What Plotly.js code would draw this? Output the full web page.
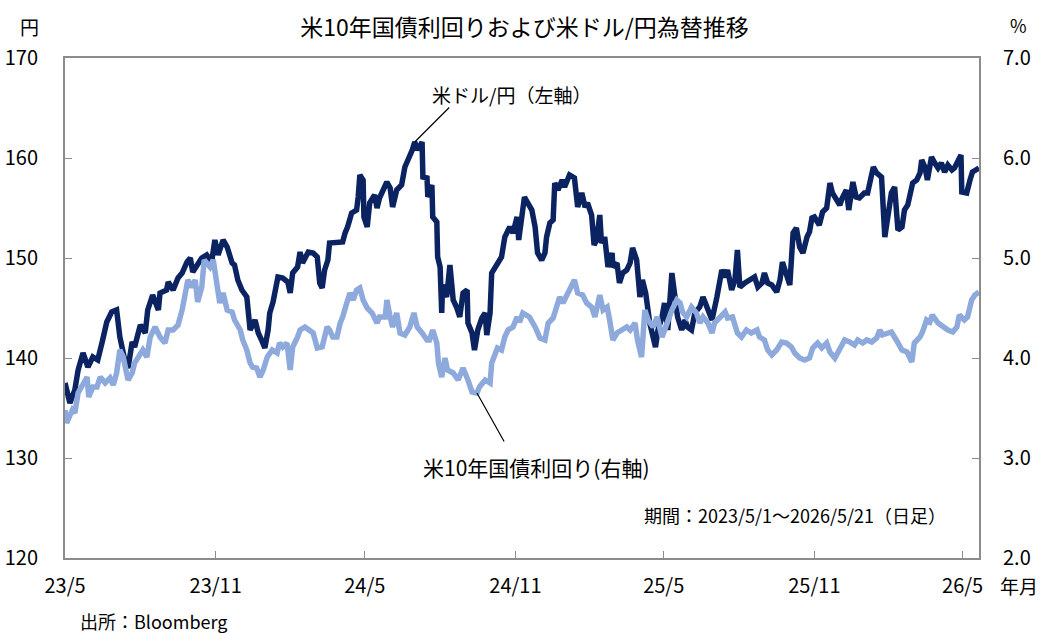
<!DOCTYPE html>
<html><head><meta charset="utf-8">
<script src="https://cdn.plot.ly/plotly-3.0.1.min.js"></script>
<style>html,body{margin:0;padding:0;background:#fff}#chart{width:1045px;height:633px}</style>
</head><body><div id="chart"></div>
<script>
// Days counted from 2023-05-01
const usdDays = [0,6,12,16,22,28,34,40,46,51,57,63,67,73,77,82,85,92,98,101,107,114,116,124,126,132,138,143,149,153,156,162,167,173,179,183,187,193,198,204,207,211,216,222,226,232,236,240,244,248,250,254,260,266,272,275,278,284,287,290,297,303,308,311,314,317,321,323,332,339,342,345,350,356,358,360,364,365,369,372,378,381,384,393,397,400,405,411,415,419,424,427,431,436,437,442,443,448,449,454,455,458,460,461,466,470,474,478,482,486,491,492,497,500,504,509,513,515,519,521,527,533,537,543,547,552,554,558,561,565,570,574,577,582,586,588,592,596,598,602,607,610,616,622,626,631,635,638,643,646,649,653,655,659,663,668,669,674,677,681,686,690,693,698,702,705,709,714,718,721,724,729,732,736,741,745,748,753,757,760,765,769,775,779,784,790,796,802,806,809,814,818,821,824,830,836,842,846,851,854,858,863,869,873,876,881,885,889,893,897,901,906,909,912,915,921,925,930,934,937,942,946,949,954,957,962,966,970,976,980,984,987,991,997,1001,1005,1009,1013,1017,1022,1025,1029,1035,1040,1044,1046,1050,1053,1058,1062,1066,1070,1074,1078,1083,1086,1090,1094,1095,1101,1105,1108,1116];
const usdJpy = [137.5,135.5,136.8,138.8,140.5,139.1,140.1,139.8,141.8,143.6,144.6,144.8,142.1,139.8,139.0,141.6,141.1,143.3,142.5,144.8,146.3,144.8,146.5,146.8,147.6,146.8,148.0,148.5,149.6,150.0,148.6,149.5,150.0,150.3,149.6,151.8,150.3,151.8,151.1,149.5,149.3,147.8,146.8,146.1,142.8,143.8,142.5,141.8,141.0,142.8,144.5,145.6,148.1,148.0,147.6,146.5,148.5,149.1,150.6,149.5,150.6,150.5,150.1,147.5,147.0,148.8,149.8,151.5,151.5,151.6,152.5,153.1,154.5,154.8,156.1,158.3,157.8,154.1,153.1,155.5,156.3,155.0,156.0,157.6,157.0,155.1,156.8,157.3,159.1,159.8,160.8,161.6,160.8,161.6,158.1,158.0,156.1,157.3,154.1,153.6,150.1,149.1,144.5,147.3,146.1,149.3,145.8,145.1,144.1,146.5,146.8,143.5,142.5,140.8,142.8,144.0,144.5,142.3,144.5,148.5,149.3,150.1,152.1,153.1,152.5,154.1,151.8,153.8,156.1,155.5,154.8,153.1,150.5,149.8,150.5,152.1,153.5,153.8,157.5,156.8,157.8,157.1,158.3,158.0,155.1,156.5,155.1,155.5,154.3,151.3,151.8,154.3,151.5,152.1,149.1,150.5,149.1,149.5,147.5,148.5,148.8,149.5,151.0,149.8,146.1,147.8,146.5,143.5,142.1,141.1,142.8,144.1,145.5,142.8,148.5,145.8,144.1,142.8,143.8,143.1,142.8,144.5,145.1,146.1,145.1,143.8,146.1,148.8,148.1,148.8,146.8,147.8,150.8,147.1,147.5,147.8,148.1,147.1,147.5,148.5,147.5,147.3,146.6,147.8,149.6,148.3,147.3,152.5,153.0,151.1,150.5,152.1,152.6,154.0,154.1,153.3,154.6,155.0,157.5,156.5,155.8,155.3,156.0,156.8,154.8,157.6,156.1,156.0,156.5,156.5,158.0,159.1,158.5,158.1,152.1,154.5,156.5,157.1,152.8,153.1,154.8,155.3,157.5,157.8,158.5,159.8,159.1,157.8,160.1,159.5,159.0,159.5,158.6,159.3,158.8,159.0,159.8,160.3,156.6,156.5,157.8,158.6,159.0];

const ustDays = [0,2,9,12,16,22,27,29,34,39,43,49,55,59,63,67,71,77,82,85,89,95,100,104,110,116,122,126,132,138,143,146,150,155,159,162,167,170,173,177,181,186,189,193,198,204,207,214,217,222,226,229,234,238,242,247,253,259,262,266,271,275,278,284,287,293,299,303,308,314,320,323,327,332,336,339,344,348,352,356,360,364,369,375,381,384,391,393,397,400,405,409,415,421,426,430,436,442,445,449,454,456,460,464,467,474,480,486,492,497,503,506,513,519,521,525,528,533,537,541,547,552,555,559,565,567,574,580,586,590,596,600,604,608,614,619,622,626,632,637,643,647,653,657,662,665,669,674,680,686,690,696,699,704,708,712,718,723,729,735,741,747,751,754,759,765,771,775,779,785,790,793,799,806,809,815,821,826,832,838,845,848,854,858,863,869,875,881,887,891,897,903,909,913,919,924,930,934,940,946,952,958,964,968,974,979,985,991,995,998,1004,1009,1015,1022,1028,1034,1037,1044,1047,1052,1056,1059,1066,1072,1078,1084,1089,1092,1098,1102,1107,1111,1116];
const ust10y = [3.48,3.35,3.48,3.45,3.65,3.75,3.81,3.61,3.71,3.71,3.81,3.75,3.80,3.73,3.85,4.08,4.01,3.78,3.85,3.95,4.01,4.08,4.01,4.21,4.31,4.21,4.15,4.28,4.28,4.33,4.48,4.61,4.78,4.71,4.78,4.56,4.71,4.98,4.95,4.91,4.98,4.65,4.55,4.65,4.48,4.46,4.38,4.28,4.18,4.08,3.95,3.91,3.90,3.81,3.88,4.01,4.08,4.05,4.15,4.11,4.15,3.88,4.11,4.21,4.28,4.31,4.28,4.25,4.10,4.11,4.31,4.28,4.21,4.21,4.35,4.41,4.55,4.65,4.58,4.68,4.70,4.58,4.50,4.45,4.35,4.41,4.41,4.58,4.41,4.31,4.45,4.25,4.23,4.31,4.45,4.31,4.25,4.18,4.18,4.28,4.15,3.95,3.81,4.00,3.88,3.85,3.78,3.90,3.78,3.66,3.65,3.71,3.78,3.75,3.95,4.05,4.10,4.08,4.21,4.28,4.31,4.41,4.36,4.45,4.41,4.41,4.31,4.20,4.18,4.35,4.40,4.51,4.61,4.55,4.65,4.75,4.78,4.65,4.63,4.55,4.51,4.41,4.63,4.48,4.51,4.38,4.18,4.25,4.28,4.31,4.28,4.35,4.18,4.01,4.48,4.38,4.31,4.41,4.21,4.35,4.48,4.58,4.55,4.46,4.41,4.51,4.45,4.35,4.41,4.35,4.25,4.35,4.41,4.46,4.40,4.41,4.25,4.21,4.28,4.25,4.28,4.21,4.18,4.08,4.03,4.08,4.16,4.15,4.11,4.05,4.00,3.98,4.00,4.10,4.15,4.10,4.15,4.06,4.00,4.08,4.18,4.16,4.13,4.18,4.15,4.18,4.16,4.20,4.28,4.23,4.25,4.26,4.18,4.08,4.06,3.96,4.15,4.21,4.26,4.38,4.36,4.43,4.35,4.31,4.28,4.26,4.31,4.43,4.38,4.41,4.58,4.63,4.66];

const tickDates = ['2023-05-01','2023-11-01','2024-05-01','2024-11-01','2025-05-01','2025-11-01','2026-05-01'];
const tickLabels = ['23/5','23/11','24/5','24/11','25/5','25/11','26/5'];
const leftTicks = [120,130,140,150,160,170];
const rightTicks = [2,3,4,5,6,7];

function toDate(d){ return new Date(Date.UTC(2023,4,1) + d*86400000).toISOString().slice(0,10); }
const usdX = usdDays.map(toDate);
const ustX = ustDays.map(toDate);

// annotation anchors taken from the data
let pk = 0; usdJpy.forEach((v,i)=>{ if(v>usdJpy[pk]) pk=i; });
let lo = -1; ust10y.forEach((v,i)=>{ if(ustDays[i]>440 && ustDays[i]<560 && (lo<0 || v<ust10y[lo])) lo=i; });

const FONT = 'Noto Sans CJK JP, Noto Sans, sans-serif';
const AX = '#8c8c8c';

const traces = [
  {x: usdX, y: usdJpy, type:'scatter', mode:'lines', name:'米ドル/円', line:{color:'#0b2461', width:5.5}, yaxis:'y'},
  {x: ustX, y: ust10y, type:'scatter', mode:'lines', name:'米10年国債利回り', line:{color:'#8eaadc', width:5.5}, yaxis:'y2'}
];

const layout = {
  width:1045, height:633,
  margin:{l:65, r:66, t:58, b:75},
  paper_bgcolor:'#fff', plot_bgcolor:'#fff',
  showlegend:false,
  font:{family:FONT, size:20, color:'#000'},
  title:{text:'米10年国債利回りおよび米ドル/円為替推移', x:0.502, xanchor:'center', y:0.956, yanchor:'middle', font:{family:FONT, size:23, color:'#000'}},
  xaxis:{type:'date', range:['2023-05-01','2026-05-21'], tickvals:tickDates, ticktext:tickLabels,
    ticks:'inside', ticklen:7, tickcolor:AX, tickwidth:1, showline:true, linecolor:AX, linewidth:2, mirror:true,
    showgrid:false, zeroline:false, ticklabelstandoff:9, tickfont:{size:20}},
  yaxis:{range:[120,170], tickvals:leftTicks, ticks:'inside', ticklen:7, tickcolor:AX, showline:true, linecolor:AX, linewidth:2,
    showgrid:false, zeroline:false, ticklabelstandoff:21, tickfont:{size:20}},
  yaxis2:{range:[2,7], tickvals:rightTicks, tickformat:'.1f', overlaying:'y', side:'right', ticks:'inside', ticklen:7, tickcolor:AX,
    showline:true, linecolor:AX, linewidth:2, showgrid:false, zeroline:false, ticklabelstandoff:18, tickfont:{size:20}},
  annotations:[
    {xref:'paper', yref:'paper', x:-0.0383, y:1.062, text:'円', showarrow:false, font:{size:19}, xanchor:'center', yanchor:'middle'},
    {xref:'paper', yref:'paper', x:1.0427, y:1.066, text:'%', showarrow:false, font:{size:18}, xanchor:'center', yanchor:'middle'},
    {xref:'paper', yref:'paper', x:1.044, y:-0.054, text:'年月', showarrow:false, font:{size:19}, xanchor:'center', yanchor:'middle'},
    {xref:'paper', yref:'paper', x:0.966, y:0.086, text:'期間：2023/5/1～2026/5/21（日足）', showarrow:false, font:{size:18}, xanchor:'right', yanchor:'middle'},
    {xref:'paper', yref:'paper', x:0.0142, y:-0.126, text:'出所：Bloomberg', showarrow:false, font:{size:18}, xanchor:'left', yanchor:'middle'},
    {xref:'paper', yref:'paper', x:0.488, y:0.926, text:'米ドル/円（左軸）', showarrow:false, font:{size:19}, xanchor:'center', yanchor:'middle'},
    {xref:'paper', yref:'paper', x:0.516, y:0.182, text:'米10年国債利回り(右軸)', showarrow:false, font:{size:21}, xanchor:'center', yanchor:'middle'},
    {x:usdX[pk], y:usdJpy[pk], xref:'x', yref:'y', text:'', showarrow:true, arrowhead:0, arrowwidth:1.2, arrowcolor:'#000', ax:36, ay:-36, standoff:0},
    {x:ustX[lo], y:ust10y[lo], xref:'x', yref:'y2', text:'', showarrow:true, arrowhead:0, arrowwidth:1.2, arrowcolor:'#000', ax:28, ay:50, standoff:0}
  ]
};

Plotly.newPlot('chart', traces, layout, {staticPlot:true, displayModeBar:false});
</script>
</body></html>
